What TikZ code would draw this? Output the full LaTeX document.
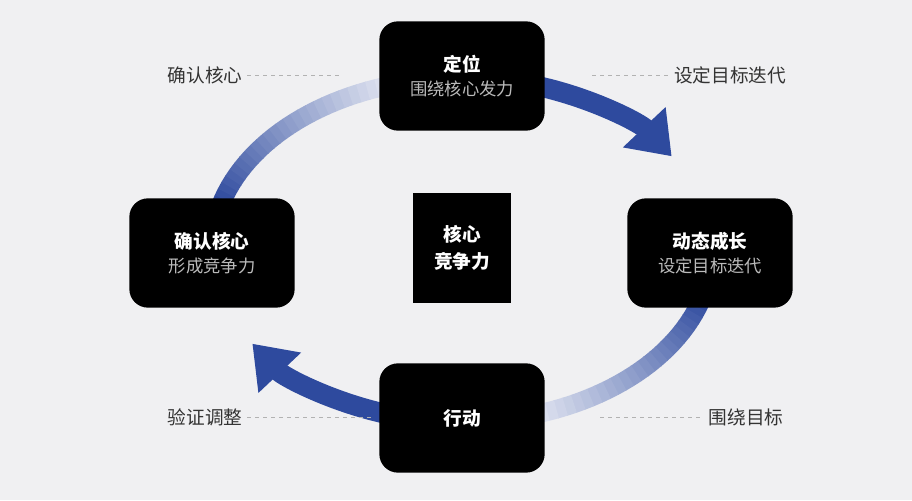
\documentclass[tikz,border=0pt]{standalone}
\usepackage{fontspec}
\setmainfont{Noto Sans CJK SC}
\usetikzlibrary{arrows.meta,positioning}
\definecolor{bgcol}{HTML}{F0F0F2}
\definecolor{ringblue}{HTML}{2E4A9E}
\definecolor{subgray}{HTML}{BBBBBB}
\definecolor{labgray}{HTML}{333333}
\newcommand{\subtxt}[1]{{\color{subgray}\fontsize{13}{18}\selectfont\mdseries #1}}
\tikzset{
  stage/.style={draw=none, fill=black, rounded corners=14pt, minimum width=124pt, minimum height=82pt, align=center, text=white, font=\fontsize{14}{20}\selectfont\bfseries},
  side/.style={text=labgray, font=\fontsize{14}{18}\selectfont},
  guide/.style={draw=gray!60, dashed, line width=0.6pt},
  ring/.style={line width=15pt, ringblue},
}
\begin{document}
\begin{tikzpicture}[x=0.75pt, y=0.75pt]
    \fill[bgcol] (0,0) rectangle (912,500);
    \useasboundingbox (0,0) rectangle (912,500);

    % Ring pieces
    \draw[ring, -{Triangle[width=42pt, length=30pt]}] ([shift={(72:250 and 172)}]462,250) arc[start angle=72, end angle=33, x radius=250, y radius=172];
    \draw[ring, -{Triangle[width=42pt, length=30pt]}] ([shift={(252:250 and 172)}]462,250) arc[start angle=252, end angle=213, x radius=250, y radius=172];
    \foreach \k in {0,...,29} {
        \pgfmathsetmacro{\shade}{100-\k*3.3}
        \draw[line width=14pt, ringblue!\shade!white] ([shift={(345-\k*2.2:250 and 172)}]462,250) arc[start angle=345-\k*2.2, end angle=342.6-\k*2.2, x radius=250, y radius=172];
        \draw[line width=14pt, ringblue!\shade!white] ([shift={(165-\k*2.2:250 and 172)}]462,250) arc[start angle=165-\k*2.2, end angle=162.6-\k*2.2, x radius=250, y radius=172];
    }

    % Stages
    \node[stage] (top) at (462,424) {定位\\[-2pt]\subtxt{围绕核心发力}};
    \node[stage] (right) at (710,247) {动态成长\\[-2pt]\subtxt{设定目标迭代}};
    \node[stage] (bottom) at (462,82) {行动};
    \node[stage] (left) at (212,247) {确认核心\\[-2pt]\subtxt{形成竞争力}};
    \node[fill=black, minimum width=73pt, minimum height=82pt, text=white, align=center, font=\fontsize{14}{20}\selectfont\bfseries] (core) at (462,252) {核心\\竞争力};

    % Side labels
    \node[side] (lt) at (205,425) {确认核心};
    \node[side] (rt) at (730,425) {设定目标迭代};
    \node[side] (lb) at (205,83) {验证调整};
    \node[side] (rb) at (746,83) {围绕目标};
    \coordinate (ltend) at (340,425);
    \coordinate (rtend) at (592,425);
    \coordinate (lbend) at (372,83);
    \coordinate (rbend) at (600,83);
    \draw[guide] (lt.east) -- (ltend);
    \draw[guide] (rtend) -- (rt.west);
    \draw[guide] (lb.east) -- (lbend);
    \draw[guide] (rbend) -- (rb.west);
\end{tikzpicture}
\end{document}
